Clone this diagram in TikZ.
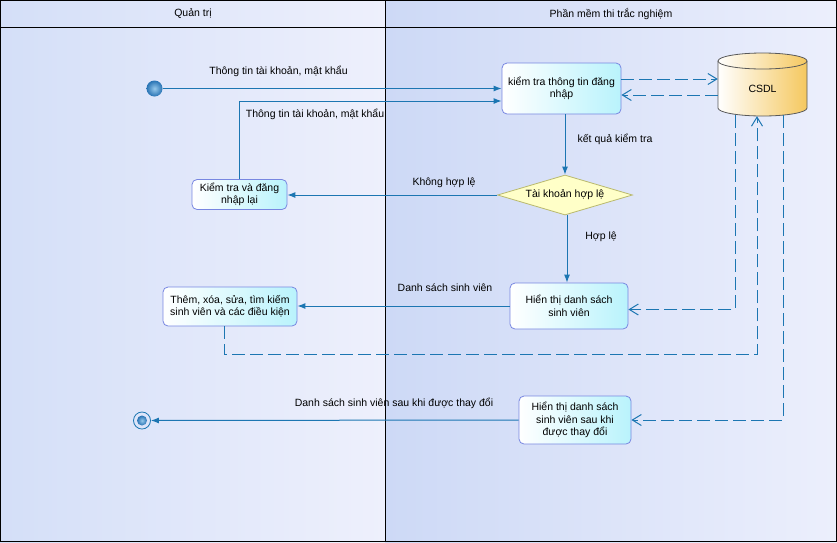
\documentclass[tikz,border=0pt]{standalone}
\usepackage{fontspec}
\setmainfont{Liberation Sans}
\usetikzlibrary{arrows.meta,shapes.geometric,calc}
\definecolor{flowc}{RGB}{28,118,178}
\definecolor{boxborder}{RGB}{120,135,225}
\definecolor{boxfill}{RGB}{185,243,252}
\definecolor{decfill}{RGB}{255,255,200}
\definecolor{decborder}{RGB}{185,185,110}
\definecolor{laneA}{RGB}{212,223,248}
\definecolor{laneB}{RGB}{238,240,252}
\definecolor{laneC}{RGB}{205,217,246}
\definecolor{laneD}{RGB}{236,239,252}
\definecolor{dbfill}{RGB}{245,200,95}
\definecolor{ballin}{RGB}{150,200,235}
\definecolor{ballout}{RGB}{40,115,180}
\begin{document}
\begin{tikzpicture}[x=1pt,y=-1pt,
  font=\fontsize{10.5}{12.5}\selectfont,
  actbox/.style={draw=boxborder, line width=0.8pt, rounded corners=5pt,
    left color=white, right color=boxfill, align=center, inner sep=2pt},
  decision/.style={diamond, draw=decborder, line width=0.8pt, fill=decfill,
    aspect=3.4, inner sep=0pt},
  ballnode/.style={circle, inner sep=0pt, inner color=ballin, outer color=ballout},
  flow/.style={draw=flowc, line width=1pt, -{Latex[length=8pt,width=6pt]}},
  dflow/.style={draw=flowc, line width=1pt, dash pattern=on 13pt off 5pt,
    -{Straight Barb[length=9pt,width=11pt]}},
  lbl/.style={inner sep=1pt}]
\useasboundingbox (0,0) rectangle (837,542);
% lanes
\fill[left color=laneA, right color=laneB] (0,0) rectangle (385,542);
\fill[left color=laneC, right color=laneD] (385,0) rectangle (837,542);
\draw[line width=1pt] (0.5,0.5) rectangle (836.5,541.5);
\draw[line width=1pt] (0,27) -- (837,27);
\draw[line width=1pt] (385,0) -- (385,542);
\node (h1) at (193,14) {Quản trị};
\node (h2) at (611,14) {Phần mềm thi trắc nghiệm};
% start and end
\node[ballnode, minimum size=16pt] (start) at (154.5,88.5) {};
\node[circle, draw=flowc, line width=0.8pt, minimum size=17pt, inner sep=0pt] (end) at (142,420.5) {};
\node[ballnode, minimum size=10pt] (endin) at (end) {};
% activities
\node[actbox, minimum width=119pt, minimum height=51pt] (check) at (561.5,88.5) {kiểm tra thông tin đăng\\nhập};
\node[actbox, minimum width=95pt, minimum height=30pt] (relog) at (239.5,194.5) {Kiểm tra và đăng\\nhập lại};
\node[decision, minimum width=135pt, minimum height=40pt] (dec) at (565,195) {Tài khoản hợp lệ};
\node[actbox, minimum width=118pt, minimum height=46pt] (list) at (569,306) {Hiển thị danh sách\\sinh viên};
\node[actbox, minimum width=134pt, minimum height=39pt] (manage) at (230,306.5) {Thêm, xóa, sửa, tìm kiếm\\sinh viên và các điều kiện};
\node[actbox, minimum width=112pt, minimum height=48pt] (final) at (575,420) {Hiển thị danh sách\\sinh viên sau khi\\được thay đổi};
% database cylinder
\path[draw=black!65, line width=0.8pt, left color=white, right color=dbfill]
  (718,61) -- (718,108) arc (180:360:44.5pt and 8pt) -- (807,61)
  arc (0:180:44.5pt and 8pt) -- cycle;
\draw[black!65, line width=0.8pt] (718,61) arc (180:360:44.5pt and 8pt);
\node[minimum width=89pt, minimum height=55pt, inner sep=0pt] (db) at (762.5,88.5) {CSDL};
% flows
\draw[flow] (start) -- (check.west);
\draw[flow] (relog.north) |- ($(check.west)+(0,12.5)$);
\draw[flow] (check.south -| dec.north) -- (dec.north);
\draw[flow] (dec.west) -- (relog.east |- dec.west);
\draw[flow] (dec.south -| list.north) ++(-2,0) -- ($(list.north)+(-2,0)$);
\draw[flow] (list.west) -- (manage.east |- list.west);
\draw[flow] (final.west) -- (end);
% dashed data flows
\draw[dflow] ($(check.east)+(0,-9.5)$) -- ($(db.west)+(0,-9.5)$);
\draw[dflow] ($(db.west)+(0,6.5)$) -- ($(check.east)+(0,6.5)$);
\draw[dflow] ($(db.south)+(-27.5,-1)$) |- ($(list.east)+(0,3.5)$);
\draw[dflow] ($(manage.south)+(-6,0)$) -- ++(0,28) -| ($(db.south)+(-5.5,0)$);
\draw[dflow] ($(db.south)+(20.5,-1)$) |- (final.east);
% labels
\node[lbl] (l1) at (278.5,71) {Thông tin tài khoản, mật khẩu};
\node[lbl] (l2) at (315,114) {Thông tin tài khoản, mật khẩu};
\node[lbl] (l3) at (615,139) {kết quả kiểm tra};
\node[lbl] (l4) at (444,183) {Không hợp lệ};
\node[lbl] (l5) at (601,237) {Hợp lệ};
\node[lbl] (l6) at (445,288) {Danh sách sinh viên};
\node[lbl] (l7) at (394,403) {Danh sách sinh viên sau khi được thay đổi};
\end{tikzpicture}
\end{document}
